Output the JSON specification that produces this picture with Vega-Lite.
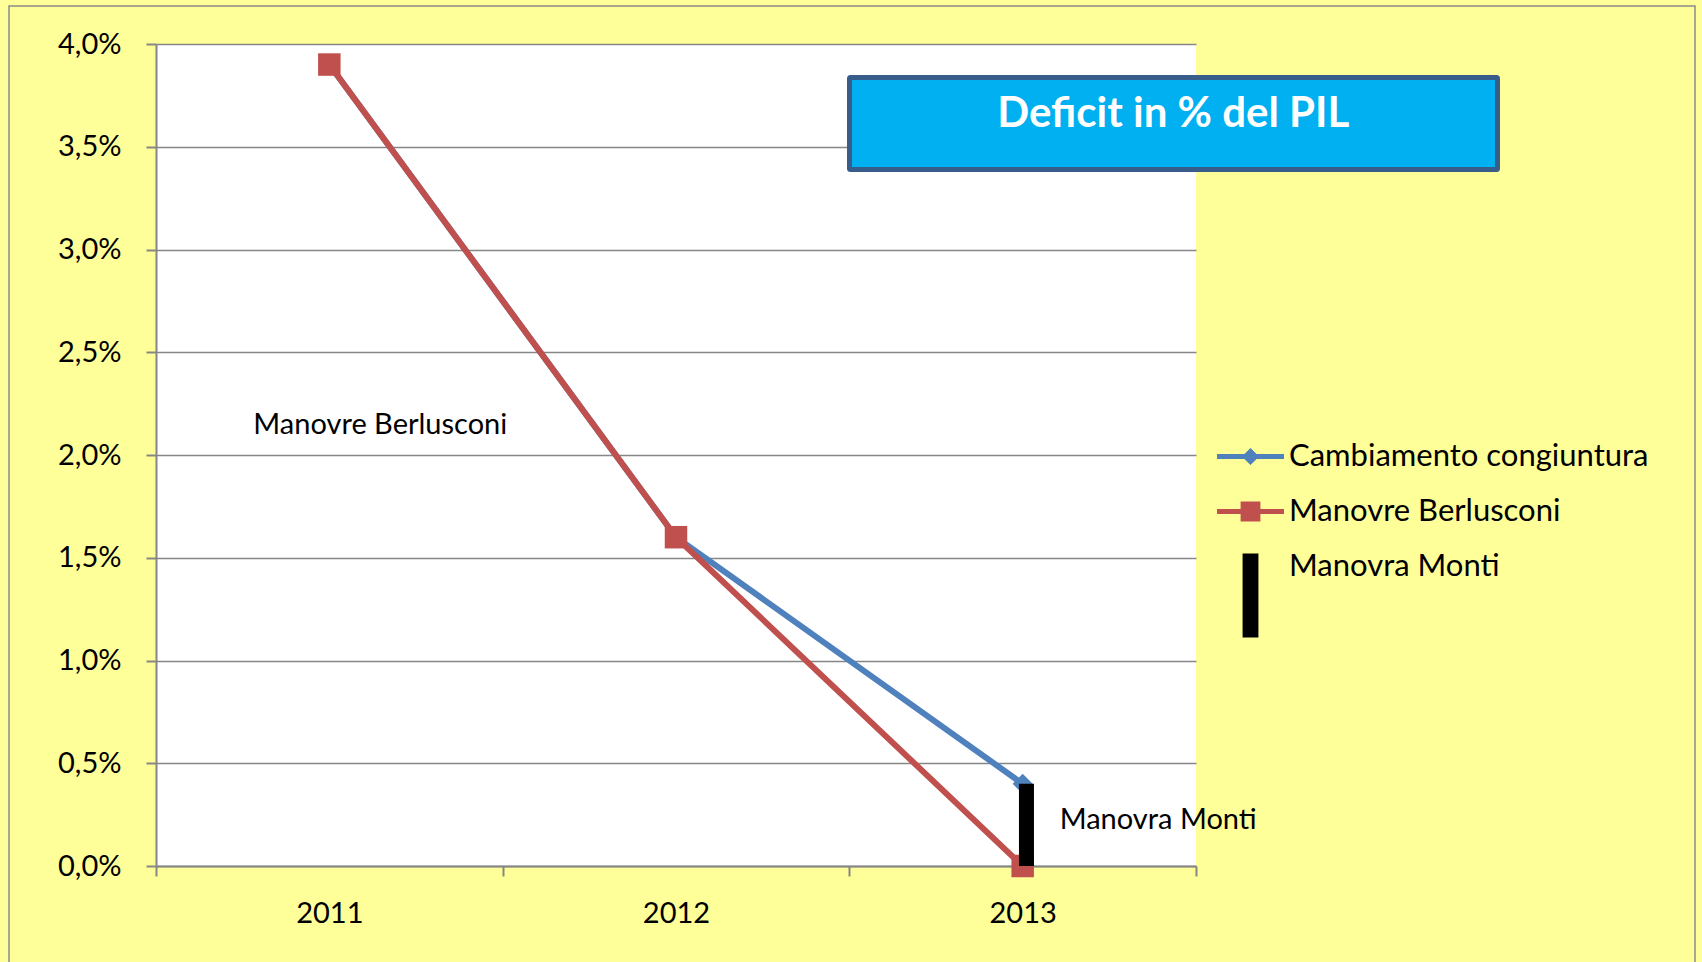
{
  "$schema": "https://vega.github.io/schema/vega-lite/v6.json",
  "width": 1040,
  "height": 822,
  "autosize": {"type": "none"},
  "padding": {"left": 156, "top": 44, "right": 506, "bottom": 96},
  "background": "#FFFF99",
  "view": {"fill": "white", "stroke": null},
  "config": {
    "font": "Lato",
    "locale": {"number": {"decimal": ",", "thousands": ".", "grouping": [3], "currency": ["€", ""]}},
    "view": {"fill": "white", "stroke": null},
    "axisX": {"grid": false, "domainColor": "#868686", "domainWidth": 2, "tickColor": "#868686", "tickWidth": 2, "tickSize": 10, "labelFontSize": 29, "labelColor": "black", "labelPadding": 23, "tickBand": "extent", "labelAngle": 0, "title": null},
    "axisY": {"grid": true, "gridColor": "#868686", "gridWidth": 1.5, "domainColor": "#868686", "domainWidth": 2, "tickColor": "#868686", "tickWidth": 2, "tickSize": 10, "labelFontSize": 29, "labelColor": "black", "labelPadding": 25, "tickCount": 8, "title": null}
  },
  "datasets": {
    "deficit": [
      {"anno": "2011", "serie": "Cambiamento congiuntura", "deficit": 0.039},
      {"anno": "2012", "serie": "Cambiamento congiuntura", "deficit": 0.016},
      {"anno": "2013", "serie": "Cambiamento congiuntura", "deficit": 0.004},
      {"anno": "2011", "serie": "Manovre Berlusconi", "deficit": 0.039},
      {"anno": "2012", "serie": "Manovre Berlusconi", "deficit": 0.016},
      {"anno": "2013", "serie": "Manovre Berlusconi", "deficit": 0.0}
    ],
    "monti": [
      {"anno": "2013", "serie": "Manovra Monti", "da": 0.0, "a": 0.004}
    ],
    "serie": [
      {"serie": "Cambiamento congiuntura"},
      {"serie": "Manovre Berlusconi"},
      {"serie": "Manovra Monti"}
    ],
    "note": [
      {"anno": "2011", "testo": "Manovre Berlusconi", "livello": 0.021},
      {"anno": "2013", "testo": "Manovra Monti", "livello": 0.0018}
    ],
    "titolo": [
      {"testo": "Deficit in % del PIL"}
    ]
  },
  "resolve": {"scale": {"x": "independent"}},
  "layer": [
    {
      "data": {"values": [{}]},
      "mark": {"type": "rect", "fillOpacity": 0, "stroke": "#8C8C8C", "strokeWidth": 1.5},
      "encoding": {
        "x": {"datum": -0.424, "type": "quantitative", "scale": {"domain": [0, 3], "nice": false, "zero": false}, "axis": null},
        "x2": {"datum": 4.4394},
        "y": {"datum": 0.041849, "type": "quantitative", "scale": {"domain": [0, 0.04], "nice": false}, "axis": {"format": ".1%", "title": null}},
        "y2": {"datum": -0.00506}
      }
    },
    {
      "layer": [
        {
          "data": {"name": "deficit"},
          "transform": [{"filter": "datum.serie == 'Cambiamento congiuntura'"}],
          "mark": {"type": "line", "color": "#4F81BD", "strokeWidth": 6},
          "encoding": {
            "x": {"field": "anno", "type": "nominal", "scale": {"type": "band", "domain": ["2011", "2012", "2013"], "paddingInner": 0, "paddingOuter": 0}},
            "y": {"field": "deficit", "type": "quantitative", "scale": {"domain": [0, 0.04], "nice": false}, "axis": {"format": ".1%", "title": null}}
          }
        },
        {
          "data": {"name": "deficit"},
          "transform": [{"filter": "datum.serie == 'Cambiamento congiuntura'"}],
          "mark": {"type": "point", "shape": "diamond", "filled": true, "opacity": 1, "color": "#4F81BD", "size": 400},
          "encoding": {
            "x": {"field": "anno", "type": "nominal", "scale": {"type": "band", "domain": ["2011", "2012", "2013"], "paddingInner": 0, "paddingOuter": 0}},
            "y": {"field": "deficit", "type": "quantitative", "scale": {"domain": [0, 0.04], "nice": false}}
          }
        },
        {
          "data": {"name": "deficit"},
          "transform": [{"filter": "datum.serie == 'Manovre Berlusconi'"}],
          "mark": {"type": "line", "color": "#C0504D", "strokeWidth": 6},
          "encoding": {
            "x": {"field": "anno", "type": "nominal", "scale": {"type": "band", "domain": ["2011", "2012", "2013"], "paddingInner": 0, "paddingOuter": 0}},
            "y": {"field": "deficit", "type": "quantitative", "scale": {"domain": [0, 0.04], "nice": false}}
          }
        },
        {
          "data": {"name": "deficit"},
          "transform": [{"filter": "datum.serie == 'Manovre Berlusconi'"}],
          "mark": {"type": "point", "shape": "square", "filled": true, "opacity": 1, "color": "#C0504D", "size": 506},
          "encoding": {
            "x": {"field": "anno", "type": "nominal", "scale": {"type": "band", "domain": ["2011", "2012", "2013"], "paddingInner": 0, "paddingOuter": 0}},
            "y": {"field": "deficit", "type": "quantitative", "scale": {"domain": [0, 0.04], "nice": false}}
          }
        },
        {
          "data": {"name": "monti"},
          "mark": {"type": "bar", "color": "black", "width": 15, "xOffset": 3.8},
          "encoding": {
            "x": {"field": "anno", "type": "nominal", "scale": {"type": "band", "domain": ["2011", "2012", "2013"], "paddingInner": 0, "paddingOuter": 0}},
            "y": {"field": "da", "type": "quantitative", "scale": {"domain": [0, 0.04], "nice": false}},
            "y2": {"field": "a"}
          }
        },
        {
          "data": {"name": "serie"},
          "mark": {"type": "point", "filled": true, "opacity": 0},
          "encoding": {
            "color": {
              "field": "serie", "type": "nominal",
              "scale": {"domain": ["Cambiamento congiuntura", "Manovre Berlusconi", "Manovra Monti"], "range": ["#4F81BD", "#C0504D", "#000000"]},
              "legend": {"orient": "none", "legendX": 1078, "legendY": 396, "title": null, "symbolSize": 1089, "symbolStrokeWidth": 0, "symbolOpacity": 1, "labelFontSize": 31, "labelColor": "black", "labelOffset": 22, "rowPadding": 23, "labelLimit": 0, "labelExpr": "datum.label == 'Manovra Monti' ? '\u2009\u2009' + datum.label : datum.label"}
            },
            "shape": {
              "field": "serie", "type": "nominal",
              "scale": {"domain": ["Cambiamento congiuntura", "Manovre Berlusconi", "Manovra Monti"], "range": [
                "M-2.03,-0.15H2.03V0.15H-2.03Z M0,-0.52L0.52,0L0,0.52L-0.52,0Z",
                "M-2.03,-0.15H2.03V0.15H-2.03Z M-0.6,-0.6H0.6V0.6H-0.6Z",
                "M-0.48,-0.79H0.48V4.3H-0.48Z"
              ]},
              "legend": {"orient": "none", "legendX": 1078, "legendY": 396, "title": null, "symbolSize": 1089, "symbolStrokeWidth": 0, "symbolOpacity": 1, "labelFontSize": 31, "labelColor": "black", "labelOffset": 22, "rowPadding": 23, "labelLimit": 0, "labelExpr": "datum.label == 'Manovra Monti' ? '\u2009\u2009' + datum.label : datum.label"}
            }
          }
        },
        {
          "data": {"name": "note"},
          "transform": [{"filter": "datum.anno == '2011'"}],
          "mark": {"type": "text", "align": "left", "baseline": "alphabetic", "fontSize": 29, "color": "black", "dx": -76},
          "encoding": {
            "x": {"field": "anno", "type": "nominal", "scale": {"type": "band", "domain": ["2011", "2012", "2013"], "paddingInner": 0, "paddingOuter": 0}},
            "y": {"field": "livello", "type": "quantitative", "scale": {"domain": [0, 0.04], "nice": false}},
            "text": {"field": "testo"}
          }
        },
        {
          "data": {"name": "note"},
          "transform": [{"filter": "datum.anno == '2013'"}],
          "mark": {"type": "text", "align": "left", "baseline": "alphabetic", "fontSize": 29, "color": "black", "dx": 37},
          "encoding": {
            "x": {"field": "anno", "type": "nominal", "scale": {"type": "band", "domain": ["2011", "2012", "2013"], "paddingInner": 0, "paddingOuter": 0}},
            "y": {"field": "livello", "type": "quantitative", "scale": {"domain": [0, 0.04], "nice": false}},
            "text": {"field": "testo"}
          }
        }
      ]
    },
    {
      "data": {"name": "titolo"},
      "layer": [
        {
          "mark": {"type": "rect", "fill": "#00B0F0", "stroke": "#385D8A", "strokeWidth": 5, "cornerRadius": 1},
          "encoding": {
            "x": {"datum": 2.0005, "type": "quantitative", "scale": {"domain": [0, 3], "nice": false, "zero": false}, "axis": null},
            "x2": {"datum": 3.8697},
            "y": {"datum": 0.03837, "type": "quantitative", "scale": {"domain": [0, 0.04], "nice": false}},
            "y2": {"datum": 0.033893}
          }
        },
        {
          "mark": {"type": "text", "align": "center", "baseline": "alphabetic", "fontSize": 42, "fontWeight": "bold", "color": "white"},
          "encoding": {
            "x": {"datum": 2.9345, "type": "quantitative", "scale": {"domain": [0, 3], "nice": false, "zero": false}, "axis": null},
            "y": {"datum": 0.035976, "type": "quantitative", "scale": {"domain": [0, 0.04], "nice": false}},
            "text": {"field": "testo"}
          }
        }
      ]
    }
  ]
}
